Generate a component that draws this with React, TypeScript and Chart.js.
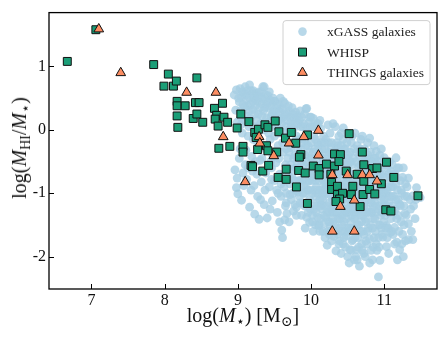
import React, { useEffect, useRef } from "react";
import { Chart, registerables } from "chart.js";
Chart.register(...registerables);

const X_MIN = 6.42;
const X_MAX = 11.72;
const Y_MIN = -2.51;
const Y_MAX = 1.85;
const xTickValues = [7, 8, 9, 10, 11];
const yTickValues = [-2, -1, 0, 1];
const seriesLabels = ["xGASS galaxies", "WHISP", "THINGS galaxies"];

const xgass: number[][] = [
  [8.95,0.55],[8.98,0.63],[8.97,0.31],[8.99,0.12],[8.96,-0.63],[8.98,-0.91],[8.99,-0.76],[9.0,-1.01],[9.02,0.44],[9.03,0.65],[9.05,0.52],[9.04,0.2],[9.06,-0.05],[9.05,-1.11],[9.08,-0.88],[9.07,-0.68],[9.02,-0.45],[9.09,0.36],[9.08,0.58],
  [9.10,0.68],[9.12,0.47],[9.13,0.62],[9.15,0.3],[9.16,0.71],[9.11,-0.32],[9.14,-0.6],[9.16,-1.22],[9.18,-0.95],[9.19,0.57],[9.17,0.4],[9.12,-0.78],[9.19,-0.42],[9.15,0.05],
  [9.21,0.62],[9.22,0.5],[9.24,0.38],[9.23,-1.33],[9.25,0.58],[9.27,0.45],[9.22,-0.88],[9.26,-0.7],[9.29,-1.41],[9.28,0.25],[9.24,-0.5],[9.27,-1.05],[9.29,0.6],[9.21,-0.15],
  [9.31,0.52],[9.33,0.41],[9.34,0.68],[9.36,0.68],[9.35,0.3],[9.32,-0.82],[9.37,-0.95],[9.38,0.55],[9.39,0.18],[9.33,-0.45],[9.36,-1.18],[9.38,-0.68],[9.31,-1.1],[9.39,0.44],
  [9.40,-1.39],[9.41,0.54],[9.42,0.35],[9.44,0.47],[9.43,-0.9],[9.45,0.22],[9.46,-0.6],[9.47,-1.12],[9.48,0.5],[9.44,-1.25],[9.49,0.3],[9.42,-0.05],[9.46,-0.78],[9.48,-0.42],
  [9.51,0.45],[9.52,0.28],[9.53,-0.95],[9.55,0.4],[9.54,-1.3],[9.56,0.15],[9.57,-0.7],[9.58,0.33],[9.59,-1.05],[9.60,-1.58],[9.52,-0.52],[9.55,-0.25],[9.57,-1.45],[9.58,0.5],[9.59,-0.85],[9.53,0.05],
  [9.61,-1.70],[9.61,0.33],[9.62,0.2],[9.63,-0.9],[9.64,0.42],[9.65,-0.55],[9.66,-1.15],[9.67,-1.32],[9.68,0.25],[9.69,-0.72],[9.62,-0.35],[9.65,0.05],[9.66,-1.0],[9.68,-0.45],[9.69,0.38],[9.64,-1.42],
  [9.70,0.3],[9.71,-0.85],[9.72,0.12],[9.73,-1.1],[9.74,0.35],[9.75,-0.62],[9.76,-1.28],[9.77,0.18],[9.78,-0.4],[9.79,-0.95],[9.72,-0.28],[9.74,-0.75],[9.76,0.02],[9.78,-1.18],[9.79,0.28],[9.71,-1.02],
  [9.80,0.23],[9.80,-1.22],[9.81,-0.5],[9.82,0.1],[9.83,-0.8],[9.84,-1.05],[9.85,0.3],[9.86,-0.3],[9.87,-1.35],[9.88,-0.65],[9.89,0.05],[9.82,-0.98],[9.84,-0.15],[9.86,-0.9],[9.88,-1.15],[9.83,-0.42],[9.87,0.2],[9.89,-0.78],
  [9.90,-0.55],[9.91,0.25],[9.92,-1.0],[9.93,0.33],[9.94,0.34],[9.93,-0.25],[9.95,-0.82],[9.96,-1.3],[9.97,0.12],[9.98,-1.46],[9.99,-0.7],[9.91,-1.2],[9.92,-0.4],[9.95,-0.05],[9.96,-0.95],[9.97,-0.6],[9.98,-1.1],[9.99,0.05],[9.94,-1.38],[9.90,-0.88],[9.97,-0.35],[9.99,-1.25],
  [10.00,0.2],[10.01,-0.45],[10.02,-1.0],[10.03,0.18],[10.03,-0.75],[10.04,-1.25],[10.05,0.05],[10.05,-0.3],[10.06,-1.5],[10.07,-0.9],[10.07,-0.55],[10.08,-1.15],[10.08,0.1],[10.09,-0.2],[10.09,-1.38],[10.10,-1.51],[10.01,-0.65],[10.02,-1.35],[10.04,-0.1],[10.06,-0.8],[10.06,-1.05],[10.09,-0.7],[10.00,-0.95],[10.03,-1.6],[10.08,-0.42],[10.05,-1.2],
  [10.10,0.1],[10.11,-0.35],[10.11,-0.8],[10.12,-1.1],[10.12,-0.55],[10.13,0.02],[10.13,-1.4],[10.14,-0.95],[10.14,-0.2],[10.15,-1.25],[10.15,-0.65],[10.16,-1.6],[10.16,-0.45],[10.17,-1.05],[10.17,-0.1],[10.18,-0.85],[10.18,-1.35],[10.19,-0.6],[10.19,-1.7],[10.11,-1.5],[10.13,-0.7],[10.15,-1.0],[10.17,-1.2],[10.19,-0.3],[10.12,0.15],[10.16,-0.78],[10.18,-1.48],[10.14,-1.18],
  [10.20,-0.15],[10.21,-0.5],[10.21,-1.0],[10.22,-1.3],[10.22,-0.7],[10.23,0.08],[10.23,-1.6],[10.24,-0.88],[10.24,-0.35],[10.25,-1.15],[10.25,-1.45],[10.26,-0.6],[10.26,-0.05],[10.27,-1.25],[10.27,-0.95],[10.28,-1.75],[10.28,-0.42],[10.29,-0.8],[10.29,-1.1],[10.30,0.1],[10.20,-1.38],[10.22,-1.82],[10.24,-0.2],[10.26,-1.52],[10.28,-1.05],[10.30,-0.55],[10.21,-0.9],[10.25,-0.75],[10.27,-0.28],[10.29,-1.4],
  [10.30,-1.2],[10.31,-0.35],[10.31,-0.9],[10.32,-1.5],[10.32,-0.6],[10.33,0.05],[10.33,-1.05],[10.34,-1.91],[10.34,-0.75],[10.35,-1.3],[10.35,-0.2],[10.36,-1.65],[10.36,-0.5],[10.37,-1.0],[10.37,-1.4],[10.38,-0.85],[10.38,-0.1],[10.39,-1.2],[10.39,-1.75],[10.40,-0.65],[10.30,-0.8],[10.32,-1.15],[10.34,-0.3],[10.36,-0.95],[10.38,-1.55],[10.31,-1.68],[10.33,-0.45],[10.35,-0.72],[10.37,-0.25],[10.39,-1.05],
  [10.40,-1.35],[10.41,-0.05],[10.41,-0.9],[10.42,-1.5],[10.42,-0.4],[10.43,-1.1],[10.44,0.03],[10.44,-0.7],[10.44,-1.80],[10.45,-1.25],[10.45,-0.3],[10.46,-1.6],[10.46,-0.85],[10.47,-1.0],[10.47,-0.55],[10.48,-1.67],[10.48,-1.4],[10.49,-0.2],[10.49,-0.75],[10.50,-1.15],[10.41,-1.95],[10.43,-0.6],[10.45,-1.45],[10.47,-1.85],[10.49,-1.3],[10.42,-1.22],[10.44,-0.15],[10.46,-1.05],[10.48,-0.45],[10.50,-0.95],
  [10.50,-0.05],[10.51,-1.6],[10.51,-0.65],[10.52,-1.0],[10.52,-1.3],[10.53,-1.89],[10.53,-0.35],[10.54,-0.85],[10.54,-1.45],[10.55,-0.2],[10.55,-1.15],[10.56,-1.75],[10.56,-0.55],[10.57,-1.73],[10.57,-0.95],[10.58,-1.25],[10.58,-0.7],[10.59,-2.05],[10.59,-0.3],[10.60,-0.05],[10.52,-2.1],[10.54,-1.2],[10.56,-0.1],[10.58,-1.55],[10.60,-0.9],[10.51,-0.4],[10.55,-1.35],[10.59,-1.0],
  [10.60,-1.38],[10.61,-0.5],[10.61,-1.1],[10.62,-1.89],[10.62,-0.8],[10.63,-1.5],[10.63,-0.25],[10.64,-1.70],[10.64,-1.0],[10.65,-0.6],[10.65,-1.3],[10.66,-2.15],[10.66,-0.4],[10.67,-0.9],[10.67,-1.6],[10.68,-1.2],[10.68,-0.15],[10.69,-0.7],[10.69,-1.8],[10.70,-1.05],[10.61,-2.0],[10.63,-0.95],[10.65,-1.85],[10.67,-0.3],[10.69,-1.45],[10.62,-1.25],
  [10.70,-0.1],[10.71,-0.55],[10.71,-1.35],[10.72,-0.85],[10.72,-1.65],[10.73,-0.3],[10.73,-1.15],[10.74,-2.0],[10.74,-0.7],[10.75,-1.45],[10.75,-1.0],[10.76,-0.45],[10.76,-1.8],[10.77,-1.25],[10.77,-0.2],[10.78,-0.95],[10.78,-1.55],[10.79,-0.65],[10.79,-1.1],[10.80,-1.72],[10.80,-0.13],[10.72,-1.95],[10.76,-1.3],[10.78,-0.4],
  [10.81,-0.35],[10.81,-1.0],[10.82,-1.90],[10.82,-0.75],[10.83,-1.3],[10.83,-0.5],[10.84,-1.55],[10.85,-0.9],[10.85,-1.2],[10.86,-0.25],[10.86,-1.7],[10.87,-0.65],[10.87,-1.4],[10.88,-1.05],[10.88,-0.45],[10.89,-1.80],[10.89,-0.34],[10.84,-2.05],[10.86,-1.0],[10.88,-1.6],[10.82,-1.15],[10.85,-0.6],
  [10.90,-0.8],[10.91,-1.25],[10.91,-0.5],[10.92,-2.32],[10.92,-1.5],[10.93,-0.95],[10.94,-2.06],[10.94,-0.4],[10.95,-1.35],[10.95,-0.7],[10.96,-1.1],[10.97,-1.65],[10.97,-0.55],[10.98,-1.69],[10.98,-0.9],[10.99,-1.2],[11.00,-0.44],[10.93,-1.85],[10.96,-0.3],[10.99,-1.45],
  [11.01,-0.75],[11.02,-1.0],[11.03,-1.84],[11.03,-1.51],[11.04,-0.6],[11.05,-1.3],[11.05,-0.9],[11.06,-1.15],[11.07,-0.5],[11.08,-1.62],[11.08,-0.8],[11.09,-1.4],[11.10,-1.05],[11.02,-1.55],[11.06,-1.95],[11.09,-0.65],[11.04,-1.7],[11.07,-1.25],
  [11.11,-0.55],[11.12,-0.9],[11.13,-1.3],[11.14,-1.54],[11.15,-0.7],[11.16,-0.44],[11.16,-1.1],[11.17,-1.77],[11.18,-0.95],[11.19,-1.35],[11.20,-0.6],[11.21,-1.17],[11.21,-1.89],[11.12,-1.65],[11.18,-2.05],
  [11.22,-0.8],[11.23,-1.45],[11.24,-1.0],[11.26,-0.6],[11.26,-2.0],[11.27,-1.2],[11.28,-1.32],[11.29,-0.85],[11.25,-1.65],[11.29,-1.75],
  [11.31,-1.05],[11.33,-0.76],[11.33,-1.48],[11.33,-1.73],[11.36,-1.25],[11.39,-1.73],[11.39,-1.04],[11.42,-1.4],[11.44,-0.91],[11.49,-1.07],
  [9.01,0.5],[9.03,0.3],[9.04,0.08],[9.06,0.6],[9.07,0.4],[9.09,0.15],[9.11,0.55],[9.12,0.22],[9.13,0.38],[9.14,-0.1],[9.16,0.5],[9.17,0.18],[9.18,0.62],[9.2,0.32],[9.21,0.45],[9.22,0.05],[9.23,0.25],[9.25,0.48],[9.26,0.15],[9.27,-0.2],[9.28,0.52],[9.3,0.35],[9.31,0.1],[9.32,0.6],[9.33,0.22],[9.35,0.48],[9.36,0.0],[9.37,0.35],[9.38,-0.3],[9.4,0.42],[9.41,0.12],[9.43,0.6],[9.44,-0.15],[9.45,0.38],[9.46,0.05],[9.47,0.25],[9.49,0.45],[9.5,-0.1],[9.51,0.2],[9.53,0.38],[9.54,0.12],[9.56,-0.45],[9.57,0.28],[9.58,-0.05],[9.59,0.18],[9.03,-0.3],[9.1,-0.55],[9.2,-0.65],[9.3,-0.48],[9.45,-0.5],
  [9.6,0.1],[9.61,-0.2],[9.62,0.45],[9.63,-0.05],[9.64,0.25],[9.66,-0.3],[9.67,0.15],[9.68,-0.6],[9.69,0.0],[9.7,-0.35],[9.71,0.2],[9.72,-0.55],[9.73,0.05],[9.74,-0.2],[9.75,0.25],[9.76,-0.45],[9.77,-0.8],[9.78,0.1],[9.79,-0.6],[9.8,-0.1],[9.81,0.2],[9.82,-0.3],[9.83,-0.6],[9.84,0.15],[9.85,-0.8],[9.86,0.05],[9.87,-0.5],[9.88,-0.2],[9.89,-1.0],[9.9,0.1],[9.91,-0.7],[9.92,-0.15],[9.93,-0.5],[9.94,0.0],[9.95,-0.95],[9.96,-0.25],[9.97,-0.8],[9.98,0.2],[9.99,-0.45],[10.0,-0.2],[10.01,-0.8],[10.02,0.05],[10.03,-0.35],[10.04,-0.6],[10.05,-0.95],[10.06,-0.15],[10.07,-1.3],[10.08,-0.65],[10.09,-1.0],[10.1,-0.25],[10.11,-0.95],[10.12,-0.4],[10.13,-1.2],[10.14,-0.55],[10.15,-0.3],[10.16,-1.1],[10.17,-0.7],[10.18,-0.2],[10.19,-0.95],[10.2,-0.55],[9.65,-1.2],[9.75,-1.0],[9.85,-1.15],[9.7,-1.45],[9.8,-1.35],[9.92,-1.55],[10.02,-1.45],[10.12,-1.6],[9.55,-1.0],[9.5,-0.8],
  [10.2,-0.85],[10.21,-1.2],[10.22,-0.4],[10.23,-1.0],[10.24,-1.45],[10.25,-0.6],[10.26,-0.9],[10.27,-1.6],[10.28,-0.2],[10.29,-1.3],[10.3,-0.95],[10.31,-0.5],[10.32,-1.3],[10.33,-0.85],[10.34,-1.6],[10.35,-1.05],[10.36,-0.35],[10.37,-1.2],[10.38,-0.65],[10.39,-1.4],[10.4,-0.9],[10.41,-0.25],[10.42,-1.05],[10.43,-1.35],[10.44,-0.5],[10.45,-0.95],[10.46,-1.3],[10.47,-0.3],[10.48,-0.9],[10.49,-1.55],[10.5,-0.55],[10.51,-1.25],[10.52,-0.75],[10.53,-1.1],[10.54,-0.5],[10.55,-1.55],[10.56,-0.85],[10.57,-1.2],[10.58,-0.45],[10.59,-1.4],[10.6,-0.7],[10.61,-1.3],[10.62,-0.35],[10.63,-1.1],[10.64,-0.75],[10.65,-1.5],[10.66,-1.0],[10.67,-0.55],[10.68,-1.35],[10.69,-0.95],[10.7,-1.6],[10.71,-0.8],[10.72,-1.2],[10.73,-0.5],[10.74,-1.4],[10.75,-0.8],[10.76,-1.05],[10.77,-1.6],[10.78,-0.7],[10.79,-1.3],[10.8,-0.9],[10.81,-1.5],[10.82,-0.55],[10.83,-1.05],[10.84,-0.8],[10.85,-1.4],[10.86,-0.45],[10.87,-1.15],[10.88,-0.8],[10.89,-1.3],[10.9,-0.55],[10.91,-1.0],[10.92,-1.7],[10.93,-0.65],[10.94,-1.2],[10.95,-0.9],[10.96,-1.55],[10.97,-1.3],[10.98,-0.7],[10.99,-1.0],
  [10.22,-0.6],[10.25,-1.3],[10.28,-0.7],[10.31,-1.05],[10.34,-0.45],[10.37,-0.6],[10.4,-1.15],[10.43,-0.8],[10.46,-0.6],[10.49,-1.05],[10.52,-1.55],[10.55,-0.7],[10.58,-1.05],[10.61,-0.85],[10.64,-1.25],[10.67,-1.15],[10.7,-0.5],[10.73,-0.95],[10.76,-0.65],[10.79,-0.85],[10.82,-1.3],[10.85,-1.05],[10.88,-1.2],[10.91,-0.75],[10.94,-1.5],[10.97,-1.05],[10.3,-1.45],[10.45,-1.7],[10.6,-1.7],[10.75,-1.75],[10.9,-1.9],[10.4,-1.6],[10.55,-1.9],[10.7,-1.9],[10.85,-1.85],[10.5,-2.0],[10.63,-2.05],[10.8,-2.1],[10.38,-1.8],[10.25,-1.65],
  [11.0,-1.1],[11.01,-1.35],[11.02,-0.55],[11.03,-1.2],[11.04,-0.95],[11.05,-1.55],[11.06,-0.7],[11.07,-1.05],[11.08,-1.3],[11.09,-0.9],[11.1,-1.6],[11.11,-1.2],[11.12,-0.7],[11.13,-1.05],[11.14,-1.8],[11.15,-1.25],[11.16,-0.85],[11.17,-1.4],[11.18,-0.6],[11.19,-1.1],[11.2,-1.6],[11.22,-1.2],[11.23,-0.95],[11.24,-1.8],[11.25,-0.75],[11.27,-1.5],[11.28,-1.05],[11.3,-1.35],[11.31,-0.9],[11.35,-1.1],[11.37,-1.6],[11.4,-1.2],[11.43,-1.1],
];

const whisp: number[][] = [
  [6.67,1.08],[7.06,1.58],[7.85,1.03],[8.05,0.88],[7.99,0.69],[8.12,0.69],[8.16,0.77],[8.44,0.82],
  [8.17,0.45],[8.17,0.38],[8.28,0.38],[8.42,0.43],[8.47,0.43],[8.79,0.42],[8.17,0.22],[8.18,0.04],
  [8.39,0.18],[8.44,0.25],[8.52,0.12],[8.68,0.34],[8.71,0.23],[8.69,0.17],[8.81,0.20],[8.73,0.06],
  [8.86,0.12],[8.74,-0.29],[8.89,-0.26],[8.99,0.03],[9.04,0.25],[9.15,0.13],[9.07,-0.26],[9.07,-0.35],
  [9.23,-0.04],[9.25,-0.12],[9.28,0.01],[9.37,0.08],[9.41,0.04],[9.51,0.14],[9.27,-0.31],[9.39,-0.25],
  [9.41,-0.33],[9.53,-0.35],[9.56,-0.03],[9.65,-0.13],[9.73,-0.04],[9.79,-0.21],[9.95,-0.08],[9.86,-0.39],
  [9.84,-0.43],[9.18,-0.56],[9.20,-0.58],[9.34,-0.65],[9.42,-0.56],[9.66,-0.62],[9.55,-0.75],[9.66,-0.78],
  [9.83,-0.64],[9.92,-0.68],[10.03,-0.57],[10.11,-0.61],[10.11,-0.71],[9.80,-0.90],[10.21,-0.54],[10.32,-0.57],
  [10.27,-0.70],[10.52,-0.06],[10.32,-0.38],[10.40,-0.39],[10.38,-0.50],[10.70,-0.35],[10.48,-0.65],[10.63,-0.70],
  [10.72,-0.55],[10.84,-0.61],[10.90,-0.60],[11.03,-0.51],[11.13,-0.75],[10.72,-0.81],[10.96,-0.85],[10.28,-0.83],
  [10.28,-0.94],[10.36,-0.89],[10.36,-1.02],[10.43,-1.00],[10.57,-0.89],[10.55,-1.02],[10.71,-1.02],[10.80,-0.94],
  [10.87,-1.01],[10.39,-1.09],[10.34,-1.13],[10.67,-1.21],[11.02,-1.26],[11.09,-1.28],[11.46,-1.04],[9.95,-1.16],
];

const things: number[][] = [
  [7.10,1.59],[7.40,0.90],[8.30,0.59],[8.70,0.59],[8.80,-0.11],[9.29,-0.11],[9.30,-0.21],[9.49,-0.41],
  [9.70,-0.21],[9.90,-0.11],[10.10,-0.01],[10.10,-0.40],[9.10,-0.82],[10.29,-0.71],[10.50,-0.71],[10.70,-0.71],
  [10.80,-0.71],[10.90,-0.81],[10.59,-1.11],[10.40,-1.21],[10.29,-1.60],[10.59,-1.60],
];

const FONT = "'Liberation Serif', 'DejaVu Serif', serif";
const COLORS = {
  xgass: "rgba(166, 206, 227, 0.8)",
  whisp: "#1b9e77",
  things: "#fc8d62",
};

const toPts = (arr: number[][]) => arr.map(([x, y]) => ({ x, y }));

const framePlugin = {
  id: "frameAndLegend",
  afterDraw(chart: any) {
    const { ctx, chartArea } = chart;
    const { left, right, top, bottom } = chartArea;
    const xs = chart.scales.x;
    const ys = chart.scales.y;
    ctx.save();
    ctx.strokeStyle = "#000";
    ctx.lineWidth = 1;
    xs.ticks.forEach((t: any) => {
      const px = Math.round(xs.getPixelForValue(t.value)) + 0.5;
      ctx.beginPath();
      ctx.moveTo(px, bottom);
      ctx.lineTo(px, bottom - 5);
      ctx.stroke();
    });
    ys.ticks.forEach((t: any) => {
      const py = Math.round(ys.getPixelForValue(t.value)) + 0.5;
      ctx.beginPath();
      ctx.moveTo(left, py);
      ctx.lineTo(left + 5, py);
      ctx.stroke();
    });
    ctx.lineWidth = 1.3;
    ctx.strokeRect(left, top, right - left, bottom - top);

    // legend
    const bw = 147, bh = 64;
    const bx = right - 7 - bw;
    const by = top + 8;
    ctx.beginPath();
    ctx.roundRect(bx, by, bw, bh, 3);
    ctx.fillStyle = "rgba(255,255,255,0.85)";
    ctx.fill();
    ctx.strokeStyle = "#d0d0d0";
    ctx.lineWidth = 1;
    ctx.stroke();

    const mx = bx + 19.5;
    const rows = [by + 11, by + 31.5, by + 52];
    ctx.beginPath();
    ctx.arc(mx, rows[0], 4.3, 0, Math.PI * 2);
    ctx.fillStyle = COLORS.xgass;
    ctx.fill();
    ctx.fillStyle = COLORS.whisp;
    ctx.strokeStyle = "#111";
    ctx.beginPath();
    ctx.rect(mx - 4, rows[1] - 4, 8, 8);
    ctx.fill();
    ctx.stroke();
    const r = 5.6;
    ctx.beginPath();
    ctx.moveTo(mx, rows[2] - r);
    ctx.lineTo(mx + r * 0.866, rows[2] + r * 0.5);
    ctx.lineTo(mx - r * 0.866, rows[2] + r * 0.5);
    ctx.closePath();
    ctx.fillStyle = COLORS.things;
    ctx.fill();
    ctx.stroke();

    ctx.fillStyle = "#222";
    ctx.font = `13.5px ${FONT}`;
    ctx.textBaseline = "middle";
    ctx.textAlign = "left";
    seriesLabels.forEach((lab, i) => ctx.fillText(lab, bx + 44, rows[i] + 1));
    ctx.restore();
  },
};

export default function App() {
  const ref = useRef<HTMLCanvasElement>(null);
  useEffect(() => {
    if (!ref.current) return;
    const tickFont = { family: FONT, size: 16 };
    const chart = new Chart(ref.current, {
      type: "scatter",
      data: {
        datasets: [
          {
            label: seriesLabels[0],
            data: toPts(xgass),
            pointStyle: "circle",
            pointRadius: 4.4,
            backgroundColor: COLORS.xgass,
            borderWidth: 0,
            order: 3,
          },
          {
            label: seriesLabels[1],
            data: toPts(whisp),
            pointStyle: "rect",
            pointRadius: 5.6,
            backgroundColor: COLORS.whisp,
            borderColor: "#111",
            borderWidth: 1,
            order: 2,
          },
          {
            label: seriesLabels[2],
            data: toPts(things),
            pointStyle: "triangle",
            pointRadius: 5.6,
            backgroundColor: COLORS.things,
            borderColor: "#111",
            borderWidth: 1,
            order: 1,
          },
        ] as any,
      },
      options: {
        animation: false,
        responsive: false,
        devicePixelRatio: 1,
        layout: { padding: { left: 0, top: 10, right: 10, bottom: 0 } },
        plugins: { legend: { display: false }, tooltip: { enabled: false } },
        scales: {
          x: {
            type: "linear",
            min: X_MIN,
            max: X_MAX,
            afterBuildTicks: (s: any) => {
              s.ticks = xTickValues.map((v) => ({ value: v }));
            },
            afterFit: (s: any) => {
              s.height = 49;
            },
            grid: { display: false, drawTicks: false },
            border: { display: false },
            ticks: { padding: 2, font: tickFont, color: "#111", maxRotation: 0, autoSkip: false },
          },
          y: {
            type: "linear",
            min: Y_MIN,
            max: Y_MAX,
            afterBuildTicks: (s: any) => {
              s.ticks = yTickValues.map((v) => ({ value: v }));
            },
            afterFit: (s: any) => {
              s.width = 49;
            },
            grid: { display: false, drawTicks: false },
            border: { display: false },
            ticks: { padding: 3, font: tickFont, color: "#111", autoSkip: false },
          },
        },
      } as any,
      plugins: [framePlugin],
    });
    return () => chart.destroy();
  }, []);

  const titleStyle: React.CSSProperties = {
    position: "absolute",
    fontFamily: FONT,
    fontSize: 20,
    color: "#111",
    whiteSpace: "nowrap",
    lineHeight: 1,
  };
  const sub: React.CSSProperties = { fontSize: "0.7em", verticalAlign: "-0.3em", lineHeight: 0 };

  return (
    <div style={{ position: "absolute", left: 0, top: 0, width: 447, height: 338, background: "#fff" }}>
      <canvas ref={ref} width={447} height={338} style={{ display: "block" }} />
      <div style={{ ...titleStyle, left: 243, top: 315, transform: "translate(-50%, -50%)" }}>
        log(<i>M</i>
        <sub style={sub}>⋆</sub>) [M<sub style={sub}>⊙</sub>]
      </div>
      <div style={{ ...titleStyle, left: 18.5, top: 148, transform: "translate(-50%, -50%) rotate(-90deg)" }}>
        log(<i>M</i>
        <sub style={sub}>HI</sub>/<i>M</i>
        <sub style={sub}>⋆</sub>)
      </div>
    </div>
  );
}
